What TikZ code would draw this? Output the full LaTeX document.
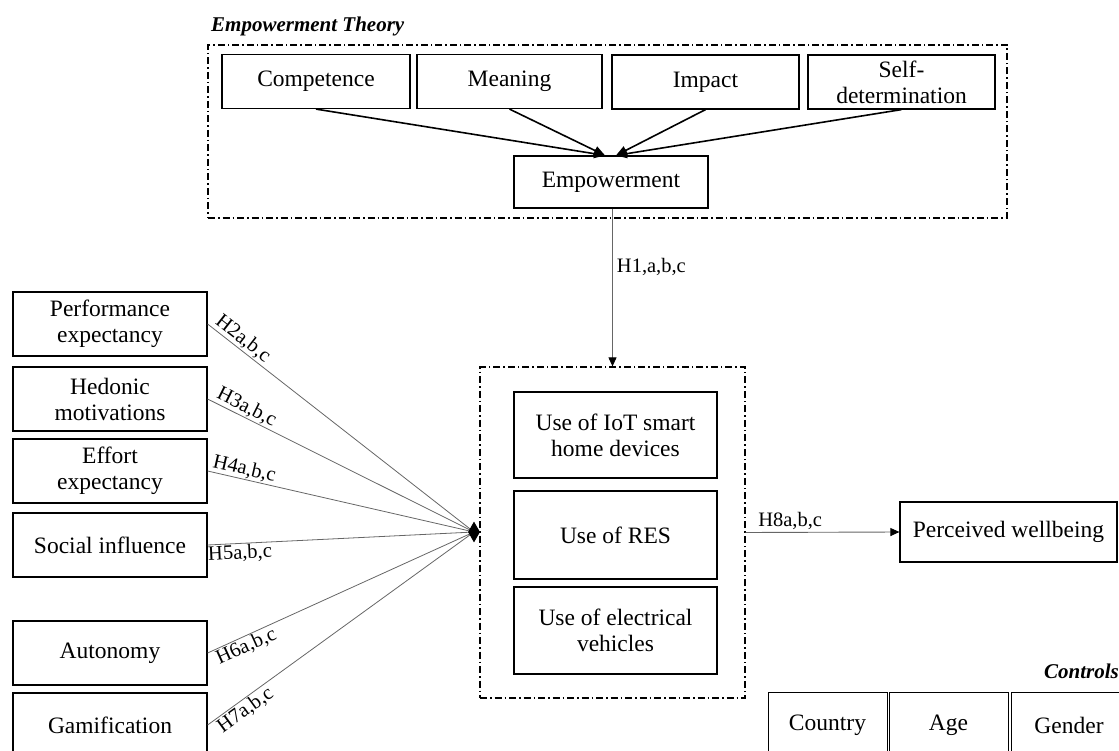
\documentclass[tikz,border=0pt]{standalone}
\usepackage{fontspec}
\setmainfont{Liberation Serif}
\usetikzlibrary{shapes.geometric,arrows.meta}
\tikzset{
  box/.style={draw, line width=1.2pt, align=center, inner sep=0pt, font=\fontsize{23.5}{26}\selectfont},
  dbox/.style={draw, line width=0.9pt, align=center, inner sep=0pt, font=\fontsize{23.5}{26}\selectfont,
    append after command={\pgfextra{\let\dboxname\tikzlastnode}
      [draw, line width=0.9pt] ([xshift=2.2pt,yshift=-2.2pt]\tikzlastnode.north west) rectangle ([xshift=-2.2pt,yshift=2.2pt]\tikzlastnode.south east)}},
  grpbox/.style={draw, line width=1.2pt, dash pattern=on 7pt off 3pt on 1.5pt off 3pt, inner sep=0pt},
  conn/.style={draw=black!60, line width=0.8pt},
  thick arrow/.style={draw=black, line width=1.6pt, -{Triangle[length=11pt,width=9pt]}},
  gray arrow/.style={draw=black!60, line width=0.9pt, -{Triangle[length=9pt,width=8pt,color=black]}},
  lab/.style={font=\fontsize{20.5}{22}\selectfont, inner sep=1pt},
  ttl/.style={font=\fontsize{21}{23}\selectfont\bfseries\itshape, inner sep=0pt}
}
\begin{document}
\begin{tikzpicture}[x=1pt,y=-1pt]
\useasboundingbox (0,0) rectangle (1119,751);
\clip (0,0) rectangle (1119,751);

% Empowerment theory group
\node[ttl, anchor=west] (ttlE) at (211,26) {Empowerment Theory};
\node[grpbox, minimum width=799pt, minimum height=173pt] (theory) at (607.5,131.5) {};
\node[box, minimum width=188pt, minimum height=54pt] (comp) at (316,81.5) {Competence};
\node[box, minimum width=185pt, minimum height=54pt] (mean) at (509.5,81.5) {Meaning};
\node[box, minimum width=187pt, minimum height=54pt] (imp) at (705.5,82) {Impact};
\node[box, minimum width=187pt, minimum height=54pt] (self) at (901.5,82) {Self-\\determination};
\node[box, minimum width=194pt, minimum height=52pt] (emp) at (611,182) {Empowerment};

\draw[thick arrow] (comp.south) -- ([xshift=-6pt]emp.north);
\draw[thick arrow] (mean.south) -- ([xshift=-6pt]emp.north);
\draw[thick arrow] (imp.south) -- ([xshift=5pt]emp.north);
\draw[thick arrow] (self.south) -- ([xshift=5pt]emp.north);

% Behaviour group
\node[grpbox, minimum width=265pt, minimum height=331pt] (grp) at (612.5,532.5) {};
\node[box, minimum width=203pt, minimum height=86pt] (iot) at (615.5,435) {Use of IoT smart\\home devices};
\node[box, minimum width=203pt, minimum height=88pt] (res) at (615.5,535) {Use of RES};
\node[box, minimum width=203pt, minimum height=87pt] (ev) at (615.5,630.5) {Use of electrical\\vehicles};

\draw[gray arrow] (emp.south -| grp.north) -- node[lab, pos=0.37, anchor=west, xshift=3pt] {H1,a,b,c} (grp.north);

% Outcome
\node[box, minimum width=217pt, minimum height=60pt] (well) at (1008.5,532) {Perceived wellbeing};
\draw[gray arrow] (grp.east) -- node[lab, pos=0.29, above=1pt] {H8a,b,c} (well.west);

% Antecedents
\node[box, minimum width=194pt, minimum height=64pt] (perf) at (110,324) {Performance\\expectancy};
\node[box, minimum width=194pt, minimum height=64pt] (hed) at (110,399) {Hedonic\\motivations};
\node[box, minimum width=194pt, minimum height=64pt] (eff) at (110,471) {Effort\\expectancy};
\node[box, minimum width=194pt, minimum height=64pt] (soc) at (110,545) {Social influence};
\node[box, minimum width=194pt, minimum height=64pt] (aut) at (110,653) {Autonomy};
\node[box, minimum width=194pt, minimum height=64pt] (gam) at (110,725) {Gamification};

\coordinate (hubpt) at (474,532);
\draw[conn] (perf.east) -- node[lab, sloped, pos=0.11, above=0pt] {H2a,b,c} (hubpt);
\draw[conn] (hed.east) -- node[lab, sloped, pos=0.13, above=0pt] {H3a,b,c} (hubpt);
\draw[conn] (eff.east) -- node[lab, sloped, pos=0.13, above=0pt] {H4a,b,c} (hubpt);
\draw[conn] (soc.east) -- node[lab, sloped, pos=0.12, below=0pt] {H5a,b,c} (hubpt);
\draw[conn] (aut.east) -- node[lab, sloped, pos=0.13, below=0pt] {H6a,b,c} (hubpt);
\draw[conn] (gam.east) -- node[lab, sloped, pos=0.12, below=0pt] {H7a,b,c} (hubpt);
\node[diamond, fill=black, inner sep=0pt, minimum width=12pt, minimum height=21pt] (hub) at (hubpt) {};

% Controls
\node[ttl, anchor=east] (ctl) at (1119,671) {Controls};
\node[dbox, minimum width=119pt, minimum height=66pt] (country) at (827.5,725) {Country};
\node[dbox, minimum width=119pt, minimum height=66pt] (age) at (948.5,725) {Age};
\node[dbox, minimum width=116pt, minimum height=66pt] (gender) at (1069,725) {Gender};
\end{tikzpicture}
\end{document}
